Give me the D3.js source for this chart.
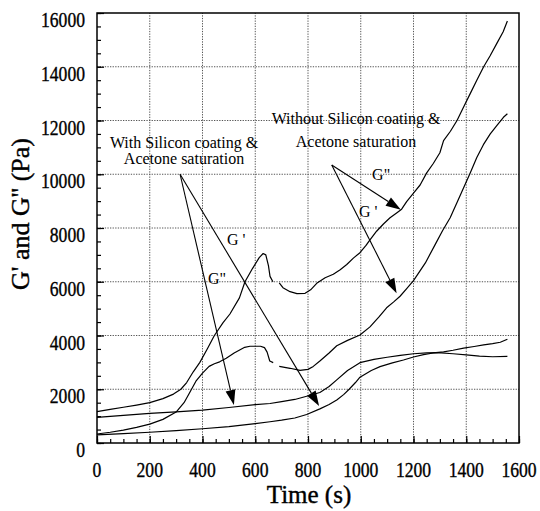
<!DOCTYPE html>
<html><head><meta charset="utf-8">
<script src="https://cdn.jsdelivr.net/npm/d3@7"></script>
<style>
body{margin:0;background:#fff}
svg{display:block}
svg text{font-family:"Liberation Serif","DejaVu Serif",serif !important;fill:#000}
</style>
</head><body>
<svg id="chart" width="540" height="511"></svg>
<script>
// ---- data (time in s, modulus in Pa) ----
const xTickValues = [0, 200, 400, 600, 800, 1000, 1200, 1400, 1600];
const yTickValues = [0, 2000, 4000, 6000, 8000, 10000, 12000, 14000, 16000];
const xLabel = "Time (s)";
const yLabel = "G' and G'' (Pa)";

// upper curve (peaks at ~7000, then rises to ~15700); null = gap in record
const curveUpper = [
  [0,1165],[50,1250],[100,1330],[150,1410],[200,1500],[250,1650],[290,1820],[318,2000],
  [340,2250],[365,2650],[390,3000],[418,3500],[445,4000],[478,4480],[504,4800],[540,5400],
  [561,6000],[590,6500],[615,6900],[630,7050],[640,7000],[650,6600],[656,6200],[667,6000],
  null,
  [691,5960],[705,5780],[732,5630],[758,5560],[789,5570],[810,5700],[833,5940],[865,6150],
  [896,6280],[922,6450],[947,6640],[972,6880],[997,7080],[1020,7350],[1035,7560],[1060,7880],
  [1086,8150],[1111,8380],[1136,8560],[1155,8700],[1174,8980],[1200,9300],[1225,9600],
  [1250,10050],[1275,10400],[1300,10800],[1314,11250],[1340,11600],[1365,12000],[1390,12500],
  [1415,13000],[1440,13500],[1466,14000],[1490,14400],[1516,14870],[1540,15300],[1556,15700]
];
// second curve (plateau ~3600, then rises to ~12250)
const curveSecond = [
  [0,335],[50,400],[100,480],[150,580],[200,700],[250,880],[300,1150],[330,1500],[350,1850],
  [375,2300],[400,2600],[425,2850],[445,2950],[465,3020],[490,3150],[520,3350],[560,3560],
  [580,3600],[620,3600],[635,3550],[645,3380],[655,3050],[668,2990],
  null,
  [691,2850],[732,2780],[770,2700],[800,2740],[820,2850],[845,3050],[880,3350],[909,3620],
  [950,3820],[997,4020],[1035,4320],[1070,4700],[1098,5030],[1125,5250],[1149,5460],
  [1175,5750],[1200,6040],[1245,6700],[1283,7400],[1310,7900],[1339,8380],[1365,8950],
  [1390,9500],[1415,10050],[1440,10620],[1465,11100],[1491,11500],[1515,11800],[1541,12120],[1556,12250]
];
// third curve (starts ~950, levels at ~3300)
const curveThird = [
  [0,950],[100,1030],[200,1100],[300,1160],[400,1220],[500,1320],[600,1430],[656,1470],
  [700,1540],[750,1620],[795,1740],[845,1880],[880,2100],[909,2350],[950,2700],[997,2990],
  [1050,3110],[1100,3190],[1150,3260],[1200,3320],[1250,3350],[1290,3360],[1350,3320],
  [1400,3280],[1450,3230],[1500,3210],[1556,3220]
];
// lowest curve (starts ~300, ends ~3850)
const curveLowest = [
  [0,300],[100,350],[200,400],[300,460],[400,530],[500,610],[600,720],[656,790],[700,850],
  [750,930],[795,1060],[845,1270],[880,1430],[909,1600],[935,1800],[956,2000],[980,2250],
  [997,2450],[1040,2700],[1073,2840],[1120,2980],[1162,3090],[1200,3200],[1238,3290],
  [1275,3350],[1314,3390],[1350,3450],[1390,3530],[1430,3590],[1466,3650],[1500,3700],
  [1529,3750],[1556,3860]
];

// annotations (positions in data units)
const annoWithLines = ["With Silicon coating &", "Acetone saturation"];
const annoWithoutLines = ["Without Silicon coating &", "Acetone saturation"];
const annoWithOrigin = [315, 10000];
const annoWithTips = [[519, 1414], [842, 1377]];
const annoWithoutOrigin = [890, 10344];
const annoWithoutTips = [[1152, 8680], [1136, 5570]];
const curveLabels = [
  {text: "G '", t: 493, g: 7367},
  {text: "G\"", t: 421, g: 5916},
  {text: "G\"", t: 1043, g: 9786},
  {text: "G '", t: 993, g: 8420}
];

// ---- drawing ----
const FONT = "'Liberation Serif', 'DejaVu Serif', serif";
const svg = d3.select("#chart");
const x = d3.scaleLinear().domain([0, 1600]).range([97, 519]);
const y = d3.scaleLinear().domain([0, 16000]).range([443, 13]);

// grid
const grid = svg.append("g").attr("stroke", "#555").attr("stroke-width", 1)
  .attr("stroke-dasharray", "1.3,1.3");
grid.selectAll("line.v").data(xTickValues.slice(1, -1)).join("line")
  .attr("x1", d => x(d)).attr("x2", d => x(d)).attr("y1", y(0)).attr("y2", y(16000));
grid.selectAll("line.h").data(yTickValues.slice(1, -1)).join("line")
  .attr("x1", x(0)).attr("x2", x(1600)).attr("y1", d => y(d)).attr("y2", d => y(d));

// inward ticks using d3 axes
const xMinor = d3.range(0, 1601, 50);
const yMinor = d3.range(0, 16001, 500);
const xAxisG = svg.append("g").attr("transform", `translate(0,${y(0)})`)
  .call(d3.axisTop(x).tickValues(xMinor).tickSize(4).tickFormat(""));
const xAxisMajor = svg.append("g").attr("transform", `translate(0,${y(0)})`)
  .call(d3.axisTop(x).tickValues(xTickValues).tickSize(7).tickFormat(""));
const yAxisG = svg.append("g").attr("transform", `translate(${x(0)},0)`)
  .call(d3.axisRight(y).tickValues(yMinor).tickSize(4).tickFormat(""));
const yAxisMajor = svg.append("g").attr("transform", `translate(${x(0)},0)`)
  .call(d3.axisRight(y).tickValues(yTickValues).tickSize(7).tickFormat(""));
[xAxisG, xAxisMajor, yAxisG, yAxisMajor].forEach(g => {
  g.select(".domain").remove();
  g.selectAll(".tick text").remove();
  g.selectAll(".tick line").attr("stroke", "#000").attr("stroke-width", 1.2);
});

// frame
svg.append("rect").attr("x", x(0)).attr("y", y(16000))
  .attr("width", x(1600) - x(0)).attr("height", y(0) - y(16000))
  .attr("fill", "none").attr("stroke", "#000").attr("stroke-width", 1.5);

// tick labels
svg.append("g").selectAll("text").data(xTickValues).join("text")
  .attr("transform", d => `translate(${x(d)},477) scale(0.88,1)`)
  .attr("text-anchor", "middle").attr("font-size", 20).style("font-family", FONT)
  .attr("stroke", "#000").attr("stroke-width", 0.35).text(d => d);
svg.append("g").selectAll("text").data(yTickValues).join("text")
  .attr("transform", d => `translate(85,${y(d) + 14}) scale(0.88,1)`)
  .attr("text-anchor", "end").attr("font-size", 20).style("font-family", FONT)
  .attr("stroke", "#000").attr("stroke-width", 0.35).text(d => d);

// axis titles
svg.append("text").attr("x", 309).attr("y", 503).attr("text-anchor", "middle")
  .attr("font-size", 25).style("font-family", FONT)
  .attr("stroke", "#000").attr("stroke-width", 0.4).text(xLabel);
svg.append("text").attr("transform", "translate(29,214) rotate(-90)")
  .attr("text-anchor", "middle").attr("font-size", 26).style("font-family", FONT)
  .attr("stroke", "#000").attr("stroke-width", 0.4).text(yLabel);

// curves
const line = d3.line().defined(d => d !== null).x(d => x(d[0])).y(d => y(d[1]));
const curves = svg.append("g").attr("fill", "none").attr("stroke", "#000")
  .attr("stroke-width", 1.2).attr("stroke-linejoin", "round");
[curveUpper, curveSecond, curveThird, curveLowest].forEach(c =>
  curves.append("path").attr("d", line(c)));

// annotations
function arrow(from, to) {
  const x1 = x(from[0]), y1 = y(from[1]), x2 = x(to[0]), y2 = y(to[1]);
  const ang = Math.atan2(y2 - y1, x2 - x1);
  const L = 15, W = 5;
  const bx = x2 - L * Math.cos(ang), by = y2 - L * Math.sin(ang);
  svg.append("line").attr("x1", x1).attr("y1", y1).attr("x2", bx).attr("y2", by)
    .attr("stroke", "#000").attr("stroke-width", 1.1);
  const p = [[x2, y2],
    [bx + W * Math.sin(ang), by - W * Math.cos(ang)],
    [bx - W * Math.sin(ang), by + W * Math.cos(ang)]];
  svg.append("path").attr("d", "M" + p.map(q => q.join(",")).join("L") + "Z").attr("fill", "#000");
}
annoWithTips.forEach(t => arrow(annoWithOrigin, t));
annoWithoutTips.forEach(t => arrow(annoWithoutOrigin, t));

const annoWith = svg.append("text").attr("text-anchor", "middle").attr("font-size", 16)
  .style("font-family", FONT);
annoWith.append("tspan").attr("x", x(330)).attr("y", y(10977)).text(annoWithLines[0]);
annoWith.append("tspan").attr("x", x(330)).attr("y", y(10400)).text(annoWithLines[1]);
const annoWithout = svg.append("text").attr("text-anchor", "middle").attr("font-size", 16)
  .style("font-family", FONT);
annoWithout.append("tspan").attr("x", x(982)).attr("y", y(11870)).text(annoWithoutLines[0]);
annoWithout.append("tspan").attr("x", x(982)).attr("y", y(11014)).text(annoWithoutLines[1]);

svg.append("g").selectAll("text").data(curveLabels).join("text")
  .attr("x", d => x(d.t)).attr("y", d => y(d.g)).attr("font-size", 16)
  .style("font-family", FONT).text(d => d.text);
</script>
</body></html>
